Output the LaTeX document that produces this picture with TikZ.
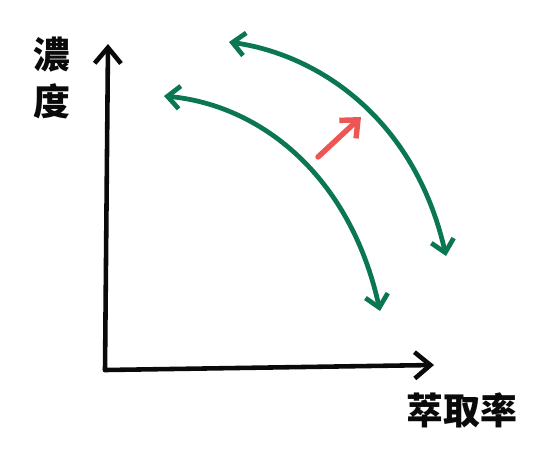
\documentclass[tikz,border=0pt]{standalone}
\usepackage{fontspec}
\usetikzlibrary{arrows.meta}
\newfontfamily\cjkfont{Noto Sans CJK TC}
\definecolor{ink}{HTML}{0A0A0A}
\definecolor{leaf}{HTML}{0B7752}
\definecolor{coral}{HTML}{EE5656}
\begin{document}
\begin{tikzpicture}[x=0.02cm,y=-0.02cm,
  axisline/.style={draw=ink,line width=2.6pt,line cap=round,-{Straight Barb[length=9pt,width=15pt,line width=2.6pt]}},
  trade/.style={draw=leaf,line width=2.7pt,line cap=round,{Straight Barb[length=7pt,width=13pt,line width=2.7pt]}-{Straight Barb[length=7pt,width=13pt,line width=2.7pt]}},
  pushline/.style={draw=coral,line width=3.1pt,line cap=round,-{Straight Barb[length=8pt,width=14pt,line width=3.1pt]}},
  axistext/.style={font=\cjkfont\bfseries\fontsize{21}{27}\selectfont,text=ink,align=center}]
\useasboundingbox (0,0) rectangle (550,468);
% axes
\coordinate (origin) at (105,370);
\coordinate (ytip) at (108,44);
\coordinate (xtip) at (434,365);
\draw[axisline] (origin) -- (ytip);
\draw[axisline] (origin) -- (xtip);
\node[axistext] (conc) at (52,78) {濃\\度};
\node[axistext] (yield) at (462,410) {萃取率};
% the two trade-off curves
\coordinate (innerA) at (164,96);
\coordinate (innerB) at (380,311);
\coordinate (outerA) at (229,42);
\coordinate (outerB) at (446,256);
\draw[trade] (innerA) .. controls (260,105) and (350,175) .. (innerB);
\draw[trade] (outerA) .. controls (320,55) and (415,120) .. (outerB);
% moving outward
\coordinate (pushA) at (318,157);
\coordinate (pushB) at (361,117);
\draw[pushline] (pushA) -- (pushB);
\end{tikzpicture}
\end{document}
